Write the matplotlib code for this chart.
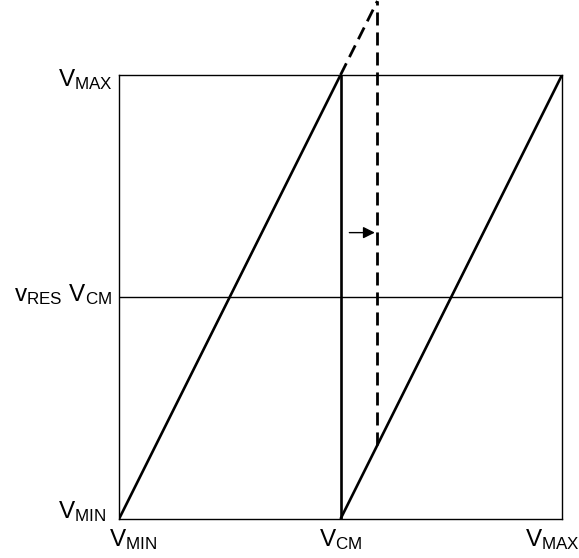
import matplotlib
matplotlib.use("Agg")
import matplotlib.pyplot as plt

plt.rcParams["font.family"] = ["Liberation Sans", "DejaVu Sans"]
plt.rcParams["mathtext.fontset"] = "custom"
plt.rcParams["mathtext.rm"] = "Liberation Sans"
plt.rcParams["mathtext.it"] = "Liberation Sans"

# Transfer characteristic: input range VMIN..VMAX mapped to 0..2, VCM = 1
v_min, v_cm, v_max = 0.0, 1.0, 2.0
shift = 1.0 / 6.0  # offset of the shifted threshold (dashed)

# first segment: rises from VMIN to VMAX over the lower half of the input
seg1_x = [v_min, v_cm]
seg1_y = [v_min, v_max]
# drop back at VCM
drop_x = [v_cm, v_cm]
drop_y = [v_max, v_min]
# second segment
seg2_x = [v_cm, v_max]
seg2_y = [v_min, v_max]

slope = (seg1_y[1] - seg1_y[0]) / (seg1_x[1] - seg1_x[0])
ext_x = [v_cm, v_cm + shift]
ext_y = [v_max, v_max + slope * shift]
dash_vx = [v_cm + shift, v_cm + shift]
dash_vy = [v_min + slope * shift, v_max + slope * shift]

arrow_y = 1.29
arrow_x0, arrow_x1 = 1.04, 1.155

fig = plt.figure(figsize=(5.79, 5.58), dpi=100)
ax = fig.add_axes([119 / 579, 1 - 519 / 558, 443 / 579, 444 / 558])
ax.set_xlim(v_min, v_max)
ax.set_ylim(v_min, v_max)
ax.set_xticks([])
ax.set_yticks([])
for s in ax.spines.values():
    s.set_linewidth(1.0)
    s.set_color("black")

ax.axhline(v_cm, color="black", lw=1.0)

thick = 1.9
ax.plot(seg1_x, seg1_y, color="black", lw=thick, solid_capstyle="butt")
ax.plot(drop_x, drop_y, color="black", lw=thick, solid_capstyle="butt")
ax.plot(seg2_x, seg2_y, color="black", lw=thick, solid_capstyle="butt")
ax.plot(ext_x, ext_y, color="black", lw=2.0, dashes=(4.7, 2.5), clip_on=False)
ax.plot(dash_vx, dash_vy, color="black", lw=2.0, dashes=(4.7, 2.5), clip_on=False)

ax.annotate("", xy=(arrow_x1, arrow_y), xytext=(arrow_x0, arrow_y),
            arrowprops=dict(arrowstyle="-|>,head_length=0.5,head_width=0.25",
                            color="black", lw=1.0,
                            mutation_scale=14, shrinkA=0, shrinkB=0))

fs = 17.5
# vertical axis labels
ax.text(-0.03, 1.95, r"$\mathrm{V_{MAX}}$", ha="right", va="baseline", fontsize=fs)
ax.text(-0.03, 0.982, r"$\mathrm{v_{RES}\ V_{CM}}$", ha="right", va="baseline", fontsize=fs)
ax.text(-0.06, 0.005, r"$\mathrm{V_{MIN}}$", ha="right", va="baseline", fontsize=fs)
# horizontal axis labels
ax.text(0.065, -0.12, r"$\mathrm{V_{MIN}}$", ha="center", va="baseline", fontsize=fs)
ax.text(v_cm, -0.12, r"$\mathrm{V_{CM}}$", ha="center", va="baseline", fontsize=fs)
ax.text(1.955, -0.12, r"$\mathrm{V_{MAX}}$", ha="center", va="baseline", fontsize=fs)

fig.savefig("out.png", dpi=100)
